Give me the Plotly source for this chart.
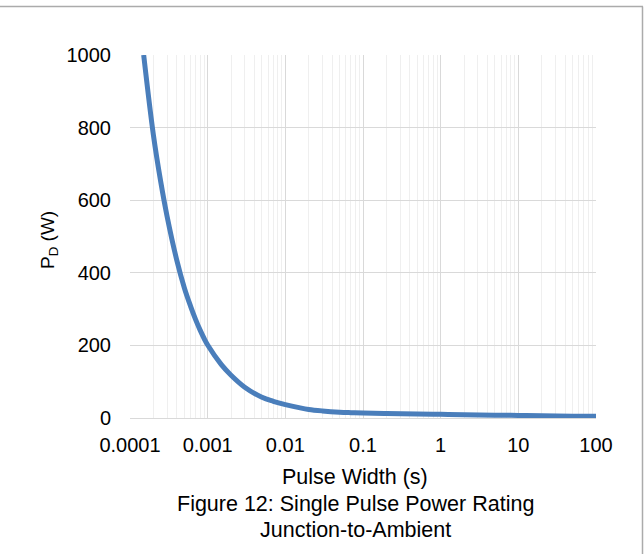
import plotly.graph_objects as go

# Pulse width (s) and peak power P_D (W)
pulse_width = [0.00015, 0.0002, 0.00025, 0.0003, 0.0004, 0.0005, 0.0006, 0.0007,
               0.0008, 0.0009, 0.001, 0.0015, 0.002, 0.003, 0.005, 0.007,
               0.01, 0.015, 0.02, 0.03, 0.05, 0.07, 0.1, 0.2, 0.5, 1, 2, 5, 10,
               20, 50, 100]
power_w = [1000, 780, 648, 556, 435, 359, 309, 271,
           242, 219, 201, 147, 118, 85, 57, 46,
           37, 28.5, 23.5, 19.5, 16, 14.7, 13.6, 12.2, 10.9, 10, 9, 7.8, 7,
           6, 5, 4.5]

x_tick_vals = [0.0001, 0.001, 0.01, 0.1, 1, 10, 100]
x_tick_text = ["0.0001", "0.001", "0.01", "0.1", "1", "10", "100"]
y_tick_vals = [0, 200, 400, 600, 800, 1000]

x_title = "Pulse Width (s)"
caption_lines = ["Figure 12: Single Pulse Power Rating", "Junction-to-Ambient"]
y_title = "P<sub>D</sub> (W)"

FONT = "Liberation Sans, Arial, sans-serif"
L, R, T, B = 130, 48, 55, 136
W, H = 644, 554
PW, PH = W - L - R, H - T - B

def px(x):
    return (x - L) / PW

def py(y):
    return (H - B - y) / PH

fig = go.Figure()
fig.add_trace(go.Scatter(
    x=pulse_width, y=power_w, mode="lines",
    line=dict(color="#4A7EBB", width=5, shape="spline", smoothing=1),
    hoverinfo="skip", showlegend=False,
))

def label(text, cx, cy, size, angle=0):
    return dict(text=text, xref="paper", yref="paper", x=px(cx), y=py(cy),
                xanchor="center", yanchor="middle", showarrow=False,
                textangle=angle, font=dict(family=FONT, size=size, color="#000000"))

annotations = [label(x_title, 355, 476.5, 21.5)]
for i, line_text in enumerate(caption_lines):
    annotations.append(label(line_text, 355, 503.5 + 26.5 * i, 21.5))
annotations.append(label(y_title, 49, 240, 19, angle=-90))

fig.update_layout(
    width=W, height=H,
    margin=dict(l=L, r=R, t=T, b=B, pad=0, autoexpand=False),
    paper_bgcolor="white", plot_bgcolor="white",
    font=dict(family=FONT, size=20, color="#000000"),
    xaxis=dict(
        type="log", range=[-4, 2], automargin=False,
        tickvals=x_tick_vals, ticktext=x_tick_text,
        showgrid=True, gridcolor="#d9d9d9", gridwidth=1.3,
        minor=dict(showgrid=True, gridcolor="#efefef", gridwidth=1, dtick="D1"),
        zeroline=False, showline=True, linecolor="#d9d9d9", linewidth=1.3,
        ticks="", ticklabelstandoff=9,
        tickfont=dict(family=FONT, size=20, color="#000000"),
    ),
    yaxis=dict(
        range=[0, 1000], tickvals=y_tick_vals, automargin=False,
        showgrid=True, gridcolor="#d9d9d9", gridwidth=1.3,
        zeroline=False, showline=False,
        ticks="", ticklabelstandoff=18,
        tickfont=dict(family=FONT, size=20, color="#000000"),
    ),
    annotations=annotations,
    shapes=[
        dict(type="line", xref="paper", yref="paper",
             x0=px(-5), x1=px(643), y0=py(6.5), y1=py(6.5),
             line=dict(color="#ababab", width=1.5)),
        dict(type="line", xref="paper", yref="paper",
             x0=px(642.5), x1=px(642.5), y0=py(6.5), y1=py(560),
             line=dict(color="#ababab", width=1.5)),
    ],
)

fig.write_html("out.html",
               config={"displayModeBar": False},
               post_script="document.body.style.margin='0px';document.body.style.overflow='hidden';")
